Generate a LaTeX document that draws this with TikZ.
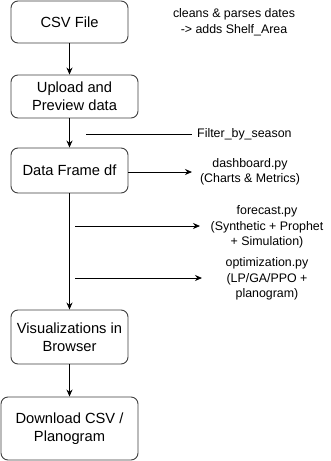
\documentclass[tikz,border=0pt]{standalone}
\usepackage{fontspec}
\setmainfont{Liberation Sans}
\usetikzlibrary{arrows.meta}
\begin{document}
\begin{tikzpicture}[x=1pt,y=-1pt,
  box/.style={draw=black!75, rounded corners=7pt, line width=0.9pt, align=center,
    font=\fontsize{14.7}{18}\selectfont, inner sep=0pt},
  note/.style={align=center, font=\fontsize{12.4}{15.5}\selectfont, inner sep=0pt},
  arr/.style={-{Stealth[length=7pt,width=6pt]}, line width=0.8pt},
  plain/.style={line width=0.8pt}]
\useasboundingbox (0,0) rectangle (331,461);
\fill[white] (0,0) rectangle (331,461);
% boxes
\node[box, minimum width=117pt, minimum height=42pt] (csv) at (69.5,22) {CSV File};
\node[box, minimum width=127pt, minimum height=43pt] (up) at (74.5,96.5) {Upload and\\Preview data};
\node[box, minimum width=117pt, minimum height=45pt] (df) at (69.5,170.5) {Data Frame df};
\node[box, minimum width=117pt, minimum height=54pt] (vis) at (69.5,337) {Visualizations in\\Browser};
\node[box, minimum width=137pt, minimum height=63pt] (dl) at (69.5,428.5) {Download CSV /\\Planogram};
% notes
\node[note] (clean) at (234,22) {cleans \& parses dates\\-> adds Shelf\_Area};
\node[note, anchor=west] (filt) at (197,134) {Filter\_by\_season};
\node[note] (dash) at (250,172) {dashboard.py\\(Charts \& Metrics)};
\node[note] (fc) at (267,227) {forecast.py\\(Synthetic + Prophet\\+ Simulation)};
\node[note] (opt) at (267,279) {optimization.py\\(LP/GA/PPO +\\planogram)};
% coordinates
\coordinate (f1) at (86,134);
\coordinate (f2) at (192,134);
\coordinate (d2) at (192,172);
\coordinate (fc1) at (75,226);
\coordinate (fc2) at (200,226);
\coordinate (op1) at (75,278);
\coordinate (op2) at (202,278);
% connectors
\draw[arr] (csv.south) -- (csv.south |- up.north);
\draw[arr] (csv.south |- up.south) -- (csv.south |- df.north);
\draw[arr] (df.south) -- (vis.north);
\draw[arr] (vis.south) -- (dl.north);
\draw[arr] (df.east |- d2) -- (d2);
\draw[plain] (f1) -- (f2);
\draw[arr] (fc1) -- (fc2);
\draw[arr] (op1) -- (op2);
\end{tikzpicture}
\end{document}
